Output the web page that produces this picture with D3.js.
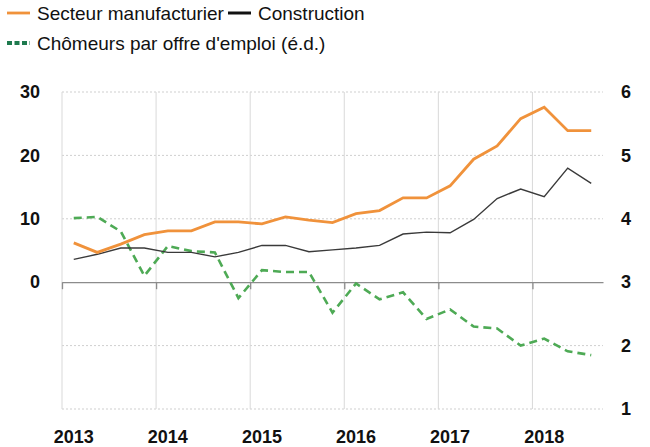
<!DOCTYPE html>
<html>
<head>
<meta charset="utf-8">
<title>Secteur manufacturier / Construction</title>
<style>
	body { margin: 0; background: #fff; }
	svg text { font-family: "Liberation Sans Narrow", "Liberation Sans", Arial, sans-serif; }
	.tick text { font-weight: bold; font-size: 18px; fill: #111; }
	.legend text { font-size: 19px; fill: #111; }
</style>
</head>
<body>
<div id="chart"></div>
<script src="https://cdn.jsdelivr.net/npm/d3@7"></script>
<script>
// quarterly data, 2013 T1 to 2018 T3
var years = [2013, 2014, 2015, 2016, 2017, 2018];
var quarters = ["2013T1","2013T2","2013T3","2013T4","2014T1","2014T2","2014T3","2014T4",
	"2015T1","2015T2","2015T3","2015T4","2016T1","2016T2","2016T3","2016T4",
	"2017T1","2017T2","2017T3","2017T4","2018T1","2018T2","2018T3"];
var manufacturier = [6.2, 4.7, 6.0, 7.5, 8.1, 8.1, 9.5, 9.5, 9.2, 10.3, 9.8, 9.4,
	10.8, 11.3, 13.3, 13.3, 15.2, 19.4, 21.5, 25.8, 27.6, 23.9, 23.9];
var construction = [3.6, 4.4, 5.4, 5.4, 4.7, 4.7, 4.0, 4.7, 5.8, 5.8, 4.8, 5.1,
	5.4, 5.8, 7.6, 7.9, 7.8, 9.9, 13.2, 14.7, 13.5, 18.0, 15.6];
var chomeurs = [4.01, 4.03, 3.80, 3.10, 3.57, 3.49, 3.47, 2.75, 3.19, 3.16, 3.16, 2.52,
	2.98, 2.73, 2.84, 2.42, 2.57, 2.30, 2.27, 2.00, 2.11, 1.91, 1.85];
var leftTicks = [0, 10, 20, 30];
var rightTicks = [1, 2, 3, 4, 5, 6];

var width = 650, height = 447;
var margin = {top: 92, right: 47, bottom: 38, left: 62};

var svg = d3.select("#chart").append("svg")
	.attr("width", width)
	.attr("height", height);

var x = d3.scaleLinear()
	.domain([0, quarters.length])
	.range([margin.left, width - margin.right]);
var y = d3.scaleLinear()
	.domain([-20, 30])
	.range([height - margin.bottom, margin.top]);
var y2 = d3.scaleLinear()
	.domain([1, 6])
	.range([height - margin.bottom, margin.top]);

// horizontal gridlines (dotted)
svg.append("g")
	.selectAll("line")
	.data([-20, -10, 10, 20, 30])
	.enter().append("line")
	.attr("x1", x(0)).attr("x2", x(quarters.length))
	.attr("y1", function(d) { return y(d); })
	.attr("y2", function(d) { return y(d); })
	.attr("stroke", "#cfcfcf")
	.attr("stroke-dasharray", "2,2");

// vertical gridlines at year boundaries
svg.append("g")
	.selectAll("line")
	.data(years)
	.enter().append("line")
	.attr("x1", function(d, i) { return x(i * 4); })
	.attr("x2", function(d, i) { return x(i * 4); })
	.attr("y1", y(30)).attr("y2", y(-20))
	.attr("stroke", "#d9d9d9");

// zero axis with small ticks
svg.append("g")
	.attr("transform", "translate(0," + y(0) + ")")
	.call(d3.axisBottom(x).tickValues([0, 4, 8, 12, 16, 20]).tickSize(7).tickSizeOuter(0).tickFormat(""))
	.call(function(g) { g.selectAll("line, path").attr("stroke", "#8c8c8c").attr("stroke-width", 1.3); });

// left axis
svg.append("g")
	.attr("transform", "translate(" + (margin.left - 19) + ",0)")
	.call(d3.axisLeft(y).tickValues(leftTicks).tickSize(0))
	.call(function(g) { g.select(".domain").remove(); });

// right axis
svg.append("g")
	.attr("transform", "translate(" + (width - margin.right + 15) + ",0)")
	.call(d3.axisRight(y2).tickValues(rightTicks).tickSize(0).tickFormat(d3.format("d")))
	.call(function(g) { g.select(".domain").remove(); });

// year labels at the first quarter of each year
svg.append("g")
	.attr("class", "tick")
	.selectAll("text")
	.data(years)
	.enter().append("text")
	.attr("x", function(d, i) { return x(i * 4 + 0.5); })
	.attr("y", 443)
	.attr("text-anchor", "middle")
	.text(function(d) { return d; });

var line = d3.line()
	.x(function(d, i) { return x(i + 0.5); })
	.y(function(d) { return y(d); });
var line2 = d3.line()
	.x(function(d, i) { return x(i + 0.5); })
	.y(function(d) { return y2(d); });

svg.append("path")
	.datum(chomeurs)
	.attr("d", line2)
	.attr("fill", "none")
	.attr("stroke", "#4eaa55")
	.attr("stroke-width", 2.6)
	.attr("stroke-dasharray", "8,5");

svg.append("path")
	.datum(construction)
	.attr("d", line)
	.attr("fill", "none")
	.attr("stroke", "#3a3a3a")
	.attr("stroke-width", 1.4);

svg.append("path")
	.datum(manufacturier)
	.attr("d", line)
	.attr("fill", "none")
	.attr("stroke", "#f0923b")
	.attr("stroke-width", 2.8);

// legend
var legend = svg.append("g").attr("class", "legend");
var items = [
	{label: "Secteur manufacturier", color: "#f0923b", x: 7, y: 13, dash: null, w: 2.8},
	{label: "Construction", color: "#111", x: 228, y: 13, dash: null, w: 3},
	{label: "Chômeurs par offre d'emploi (é.d.)", color: "#1e7a4e", x: 7, y: 43, dash: "5,2.5", w: 4}
];
items.forEach(function(it) {
	legend.append("line")
		.attr("x1", it.x).attr("x2", it.x + 23)
		.attr("y1", it.y).attr("y2", it.y)
		.attr("stroke", it.color)
		.attr("stroke-width", it.w)
		.attr("stroke-dasharray", it.dash);
	legend.append("text")
		.attr("x", it.x + 30)
		.attr("y", it.y)
		.attr("dy", "0.35em")
		.text(it.label);
});
</script>
</body>
</html>
